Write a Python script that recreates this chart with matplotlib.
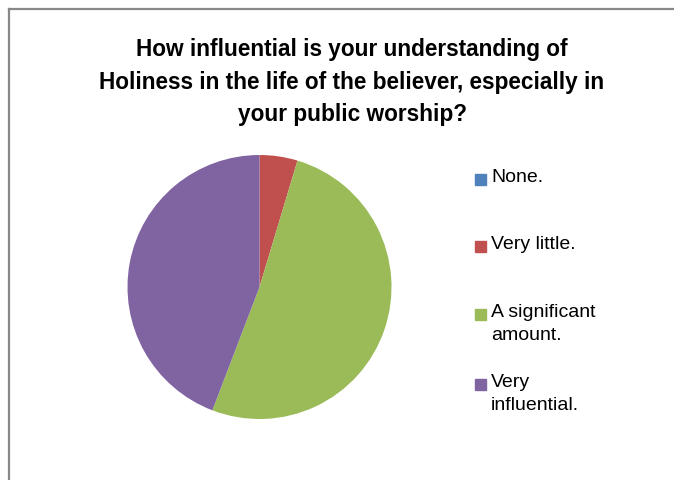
import matplotlib.pyplot as plt
from matplotlib.lines import Line2D
from matplotlib.patches import Rectangle

# datos de la encuesta
categorias = ['None.', 'Very little.', 'A significant\namount.', 'Very\ninfluential.']
respuestas = [0, 2, 22, 19]
colores = ['#4F81BD', '#C0504D', '#9BBB59', '#8064A2']

titulo = ('How influential is your understanding of\n'
          'Holiness in the life of the believer, especially in\n'
          'your public worship?')

W, H = 674, 480
fig = plt.figure(figsize=(W / 100, H / 100), dpi=100)
fig.patch.set_facecolor('white')

# marco del grafico (solo borde superior e izquierdo visibles)
fig.add_artist(Line2D([9 / W, 9 / W], [0, 1 - 9 / H], transform=fig.transFigure,
                      color='#888888', lw=1.6))
fig.add_artist(Line2D([9 / W, 1], [1 - 9 / H, 1 - 9 / H], transform=fig.transFigure,
                      color='#888888', lw=1.6))

fig.text(352 / W, 1 - 82 / H, titulo, ha='center', va='center',
         fontsize=16.3, fontweight='bold', family='Liberation Sans',
         linespacing=1.52)

# pie: centro (259.5, 287), radio 132 px
cx, cy, r = 259.5, 287, 132
ax = fig.add_axes([(cx - r) / W, 1 - (cy + r) / H, 2 * r / W, 2 * r / H])
ax.pie(respuestas, colors=colores, startangle=90, counterclock=False,
       wedgeprops=dict(linewidth=0))
ax.set_xlim(-1, 1)
ax.set_ylim(-1, 1)
ax.set_aspect('equal')

# leyenda manual
ys = [180, 247, 315, 385]
for cat, col, y in zip(categorias, colores, ys):
    fig.patches.append(Rectangle((475 / W, 1 - (y + 5) / H), 11 / W, 11 / H,
                                 transform=fig.transFigure, color=col))
    fig.text(491 / W, 1 - (y - 11) / H, cat, ha='left', va='top',
             fontsize=14, family='Liberation Sans', linespacing=1.5)

fig.savefig('out.png', dpi=100)
